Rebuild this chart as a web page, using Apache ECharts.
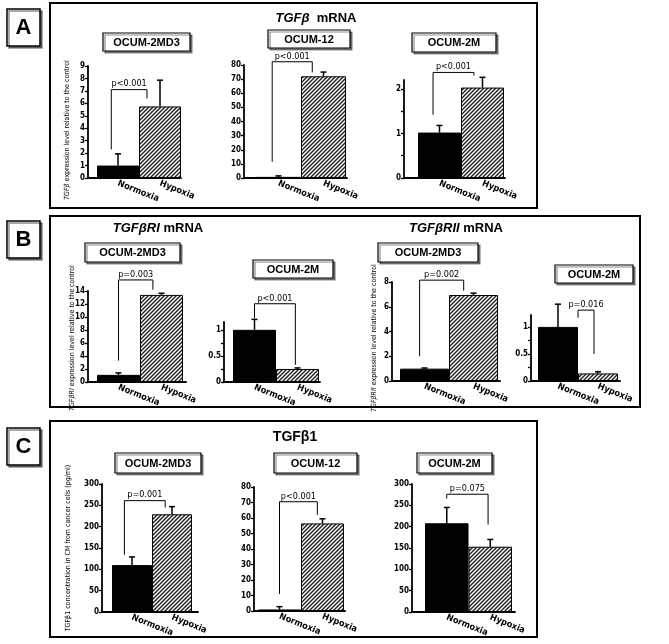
<!DOCTYPE html>
<html><head><meta charset="utf-8">
<script src="https://cdn.jsdelivr.net/npm/echarts@6/dist/echarts.min.js"></script>
<style>html,body{margin:0;padding:0;background:#fff}#c{width:669px;height:644px}</style>
</head><body><div id="c"></div>
<script>
// ---------- DATA ----------
const categories = ['Normoxia', 'Hypoxia'];

// Panel A : TGFβ mRNA
const aCells = ['OCUM-2MD3', 'OCUM-12', 'OCUM-2M'];
const aNormoxia = [1.0, 0.8, 1.02];
const aNormoxiaErr = [1.94, 1.5, 1.18];
const aHypoxia = [5.75, 72, 2.03];
const aHypoxiaErr = [7.86, 75, 2.26];
const aPValues = ['p<0.001', 'p<0.001', 'p<0.001'];
// [x left, y left end, y top, x right, y right end]
const aBrackets = [[-0.16, 2.3, 7.1, 0.69, 6.4], [-0.14, 11.5, 82.3, 0.75, 74.8], [-0.15, 1.42, 2.37, 0.8, 2.3]];
const aYMax = [9, 80, 2.2];
const aTicks = [[0,1,2,3,4,5,6,7,8,9], [0,10,20,30,40,50,60,70,80], [0,0.5,1,1.5,2]];
const aTickLabels = [[0,1,2,3,4,5,6,7,8,9], [0,10,20,30,40,50,60,70,80], [0,1,2]];

// Panel B : TGFβRI / TGFβRII mRNA
const bCells = ['OCUM-2MD3', 'OCUM-2M', 'OCUM-2MD3', 'OCUM-2M'];
const bNormoxia = [1.1, 1.0, 1.0, 1.0];
const bNormoxiaErr = [1.4, 1.2, 1.05, 1.42];
const bHypoxia = [13.4, 0.25, 6.95, 0.14];
const bHypoxiaErr = [13.65, 0.27, 7.1, 0.17];
const bPValues = ['p=0.003', 'p<0.001', 'p=0.002', 'p=0.016'];
const bBrackets = [[0, 3.3, 15.7, 0.8, 14.2], [0, 1.22, 1.5, 0.95, 0.33], [-0.1, 2.0, 8.15, 0.8, 7.3], [0.5, 1.17, 1.31, 0.9, 0.5]];
const bYMax = [14, 1.15, 8, 1.22];
const bTicks = [[0,2,4,6,8,10,12,14], [0,0.25,0.5,0.75,1], [0,2,4,6,8], [0,0.25,0.5,0.75,1]];
const bTickLabels = [[0,2,4,6,8,10,12,14], [0,0.5,1], [0,2,4,6,8], [0,0.5,1]];

// Panel C : TGFβ1 protein
const cCells = ['OCUM-2MD3', 'OCUM-12', 'OCUM-2M'];
const cNormoxia = [110, 1.0, 208];
const cNormoxiaErr = [129, 2.8, 245];
const cHypoxia = [229, 56.5, 153];
const cHypoxiaErr = [247, 59.5, 170];
const cPValues = ['p=0.001', 'p<0.001', 'p=0.075'];
const cBrackets = [[-0.19, 134, 261, 0.83, 245], [0, 11, 70.5, 0.88, 62], [0, 266, 276, 0.95, 205]];
const cYMax = [300, 80, 300];
const cTicks = [[0,50,100,150,200,250,300], [0,10,20,30,40,50,60,70,80], [0,50,100,150,200,250,300]];
const cTickLabels = cTicks;

// ---------- LAYOUT (pixels) ----------
// axis x, bar start, px per category, axis end, top(y of max), bottom(y of 0)
const layout = [
  {ax: 88, bs: 97, u: 42, ae: 181, top: 66, bot: 178},
  {ax: 244, bs: 256, u: 45, ae: 347, top: 65, bot: 178},
  {ax: 404, bs: 418, u: 43, ae: 505, top: 80, bot: 178},
  {ax: 88, bs: 97, u: 43, ae: 186, top: 291, bot: 382},
  {ax: 224, bs: 233, u: 43, ae: 320, top: 322, bot: 382},
  {ax: 392, bs: 400, u: 49, ae: 500, top: 282, bot: 381},
  {ax: 531, bs: 538, u: 40, ae: 620, top: 315, bot: 381},
  {ax: 102, bs: 112, u: 40, ae: 198, top: 484, bot: 612},
  {ax: 254, bs: 258, u: 43, ae: 345, top: 487, bot: 611},
  {ax: 412, bs: 425, u: 43.5, ae: 515, top: 484, bot: 612}
];

const FONT = "'DejaVu Sans Condensed','Liberation Sans Narrow','Liberation Sans',sans-serif";
const FONT2 = "'Liberation Sans','Arial',sans-serif";

function hatch() {
  const c = document.createElement('canvas');
  c.width = 4; c.height = 4;
  const g = c.getContext('2d');
  g.fillStyle = '#fff'; g.fillRect(0, 0, 4, 4);
  g.strokeStyle = '#1e1e1e'; g.lineWidth = 1.4;
  g.beginPath();
  g.moveTo(0, 4); g.lineTo(4, 0);
  g.moveTo(-1, 1); g.lineTo(1, -1);
  g.moveTo(3, 5); g.lineTo(5, 3);
  g.stroke();
  return c;
}
const hatchPattern = {image: hatch(), repeat: 'repeat'};

// assemble chart specs from data
const specs = [];
for (let i = 0; i < 3; i++) specs.push({n: aNormoxia[i], ne: aNormoxiaErr[i], h: aHypoxia[i], he: aHypoxiaErr[i], p: aPValues[i], br: aBrackets[i], max: aYMax[i], ticks: aTicks[i], labels: aTickLabels[i]});
for (let i = 0; i < 4; i++) specs.push({n: bNormoxia[i], ne: bNormoxiaErr[i], h: bHypoxia[i], he: bHypoxiaErr[i], p: bPValues[i], br: bBrackets[i], max: bYMax[i], ticks: bTicks[i], labels: bTickLabels[i]});
for (let i = 0; i < 3; i++) specs.push({n: cNormoxia[i], ne: cNormoxiaErr[i], h: cHypoxia[i], he: cHypoxiaErr[i], p: cPValues[i], br: cBrackets[i], max: cYMax[i], ticks: cTicks[i], labels: cTickLabels[i]});

const grid = [], xAxis = [], yAxis = [], series = [];
specs.forEach((s, i) => {
  const L = layout[i];
  const xmin = -0.5 - (L.bs - L.ax) / L.u;
  const xmax = -0.5 + (L.ae - L.bs) / L.u;
  grid.push({left: L.ax, top: L.top, width: L.ae - L.ax, height: L.bot - L.top, containLabel: false});
  xAxis.push({
    type: 'value', gridIndex: i, min: xmin, max: xmax,
    axisLine: {show: true, onZero: false, lineStyle: {color: '#000', width: 1.8}},
    axisTick: {show: false}, splitLine: {show: false},
    axisLabel: {
      customValues: [0, 1], formatter: v => categories[Math.round(v)] || '',
      rotate: -22, margin: 5, color: '#000', fontFamily: FONT, fontWeight: 'bold', fontSize: 9
    }
  });
  yAxis.push({
    type: 'value', gridIndex: i, min: 0, max: s.max,
    axisLine: {show: true, onZero: false, lineStyle: {color: '#000', width: 1.8}},
    axisTick: {show: true, customValues: s.ticks, length: 3, lineStyle: {color: '#000', width: 1.3}},
    splitLine: {show: false},
    axisLabel: {customValues: s.labels, margin: 3, color: '#000', fontFamily: FONT, fontWeight: 'bold', fontSize: 8}
  });
  series.push({
    type: 'bar', xAxisIndex: i, yAxisIndex: i, barWidth: '100%', animation: false,
    itemStyle: {borderColor: '#000', borderWidth: 1},
    data: [
      {value: [0, s.n], itemStyle: {color: '#000'}},
      {value: [1, s.h], itemStyle: {color: hatchPattern}}
    ]
  });
  series.push({
    type: 'custom', xAxisIndex: i, yAxisIndex: i, animation: false, clip: false,
    data: [[0, s.n, s.ne], [1, s.h, s.he]],
    renderItem: (params, api) => {
      const x = api.value(0), m = api.value(1), e = api.value(2);
      const p0 = api.coord([x, m]), p1 = api.coord([x, e]);
      return {type: 'group', children: [
        {type: 'line', shape: {x1: p0[0], y1: p0[1], x2: p1[0], y2: p1[1]}, style: {stroke: '#000', lineWidth: 1.5}},
        {type: 'line', shape: {x1: p1[0] - 3, y1: p1[1], x2: p1[0] + 3, y2: p1[1]}, style: {stroke: '#000', lineWidth: 1.5}}
      ]};
    }
  });
  series.push({
    type: 'custom', xAxisIndex: i, yAxisIndex: i, animation: false, clip: false, z: 5,
    data: [s.br],
    renderItem: (params, api) => {
      const a = api.coord([api.value(0), api.value(1)]);
      const b = api.coord([api.value(0), api.value(2)]);
      const c = api.coord([api.value(3), api.value(2)]);
      const d = api.coord([api.value(3), api.value(4)]);
      return {type: 'group', children: [
        {type: 'polyline', shape: {points: [a, b, c, d]}, style: {stroke: '#000', lineWidth: 1, fill: null}},
        {type: 'text', x: (b[0] + c[0]) / 2, y: b[1] - 1,
         style: {text: s.p, fill: '#000', font: '9px ' + FONT, textAlign: 'center', textVerticalAlign: 'bottom'}}
      ]};
    }
  });
});

// ---------- DECORATION ----------
function box(x1, y1, x2, y2, lw, shadow) {
  return {type: 'rect', shape: {x: x1, y: y1, width: x2 - x1, height: y2 - y1},
    style: {fill: '#fff', stroke: '#000', lineWidth: lw,
      shadowColor: shadow ? 'rgba(0,0,0,0.45)' : 'transparent', shadowOffsetX: shadow ? 2 : 0, shadowOffsetY: shadow ? 2 : 0}, z: -10};
}
function frame(x1, y1, x2, y2) {
  return {type: 'rect', shape: {x: x1, y: y1, width: x2 - x1, height: y2 - y1},
    style: {fill: null, stroke: '#000', lineWidth: 2}, z: -20};
}
function label(text, cx, cy, size, bold) {
  return {type: 'text', x: cx, y: cy, z: 10,
    style: {text: text, fill: '#000', font: (bold ? 'bold ' : '') + size + 'px ' + FONT2, textAlign: 'center', textVerticalAlign: 'middle'}};
}
function richTitle(text, cx, cy, size) {
  return {type: 'text', x: cx, y: cy, z: 10,
    style: {text: text, fill: '#000', font: 'bold ' + size + 'px ' + FONT2, textAlign: 'center', textVerticalAlign: 'middle',
      rich: {i: {fontStyle: 'italic', fontWeight: 'bold', fontSize: size, fontFamily: FONT2}}}};
}
function yTitle(text, cx, cy) {
  return {type: 'text', x: cx, y: cy, rotation: Math.PI / 2, z: 10,
    style: {text: text, fill: '#000', font: '7px ' + FONT, textAlign: 'center', textVerticalAlign: 'middle',
      rich: {i: {fontStyle: 'italic', fontSize: 7, fontFamily: FONT}}}};
}
const subBoxes = [
  [103, 33, 190, 51, aCells[0]], [268, 30, 350, 48, aCells[1]], [412, 33, 496, 52, aCells[2]],
  [85, 243, 180, 262, bCells[0]], [253, 260, 333, 278, bCells[1]], [378, 243, 478, 262, bCells[2]], [555, 265, 633, 283, bCells[3]],
  [115, 453, 201, 473, cCells[0]], [274, 453, 357, 473, cCells[1]], [417, 453, 492, 473, cCells[2]]
];
const graphic = [
  frame(50, 3, 537, 208), frame(50, 216, 640, 407), frame(50, 421, 537, 637),
  box(7, 9, 40, 46, 1.5, true), label('A', 23.5, 28, 22, true),
  box(7, 221, 40, 258, 1.5, true), label('B', 23.5, 240, 22, true),
  box(7, 428, 40, 465, 1.5, true), label('C', 23.5, 447, 22, true),
  richTitle('{i|TGFβ}  mRNA', 316, 18, 13),
  richTitle('{i|TGFβRI} mRNA', 158, 228, 13),
  richTitle('{i|TGFβRII} mRNA', 456, 228, 13),
  richTitle('TGFβ1', 295, 437, 14),
  yTitle('{i|TGFβ} expression level relative to the control', 67, 130),
  yTitle('{i|TGFβRI} expression level relative to the control', 72, 338),
  yTitle('{i|TGFβRII} expression level relative to the control', 374, 338),
  yTitle('TGFβ1 concentration in CM from cancer cells (pg/ml)', 68, 548)
];
subBoxes.forEach(b => {
  graphic.push(box(b[0], b[1], b[2], b[3], 1.2, true));
  graphic.push(label(b[4], (b[0] + b[2]) / 2, (b[1] + b[3]) / 2 + 0.5, 11, true));
});

const chart = echarts.init(document.getElementById('c'), null, {renderer: 'canvas'});
chart.setOption({animation: false, backgroundColor: '#fff', grid, xAxis, yAxis, series, graphic});
</script></body></html>
